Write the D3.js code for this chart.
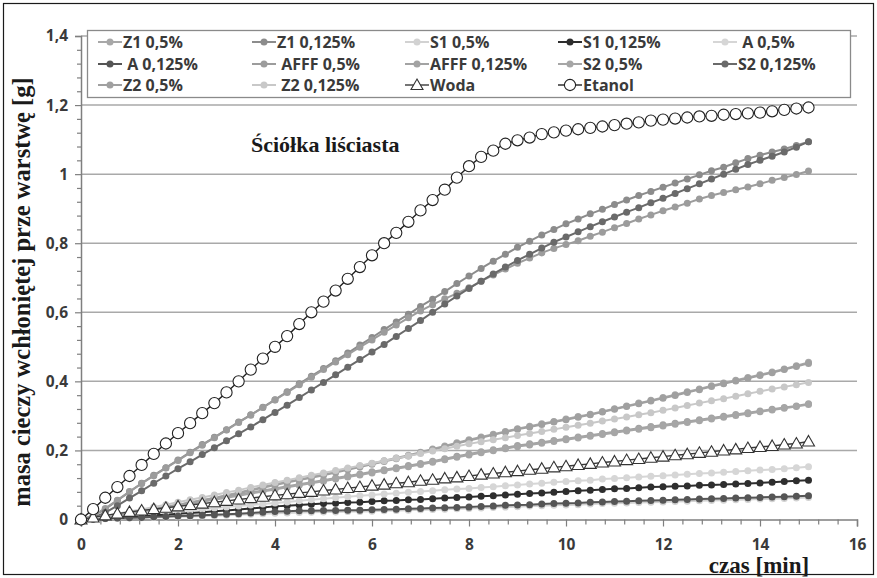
<!DOCTYPE html>
<html><head><meta charset="utf-8">
<script src="https://cdn.jsdelivr.net/npm/d3@7"></script>
<style>body{margin:0;background:#fff}svg{display:block}text{white-space:pre}</style>
</head><body><svg id="c" width="877" height="578"></svg>
<script>
const time = [0,0.25,0.5,0.75,1,1.25,1.5,1.75,2,2.25,2.5,2.75,3,3.25,3.5,3.75,4,4.25,4.5,4.75,5,5.25,5.5,5.75,6,6.25,6.5,6.75,7,7.25,7.5,7.75,8,8.25,8.5,8.75,9,9.25,9.5,9.75,10,10.25,10.5,10.75,11,11.25,11.5,11.75,12,12.25,12.5,12.75,13,13.25,13.5,13.75,14,14.25,14.5,14.75,15];

const seriesNames = ["Z1 0,5%","Z1 0,125%","S1 0,5%","S1 0,125%"," A 0,5%"," A 0,125%"," AFFF 0,5%","AFFF 0,125%","S2 0,5%","S2 0,125%","Z2 0,5%"," Z2 0,125%","Woda","Etanol"];

const z1_05 = [0,0.004,0.009,0.014,0.019,0.024,0.03,0.036,0.042,0.049,
 0.056,0.063,0.07,0.078,0.086,0.094,0.102,0.109,0.116,0.123,
 0.13,0.138,0.146,0.154,0.162,0.17,0.178,0.186,0.195,0.204,
 0.213,0.222,0.231,0.239,0.247,0.255,0.263,0.27,0.277,0.284,
 0.291,0.298,0.305,0.313,0.321,0.329,0.337,0.345,0.353,0.361,
 0.37,0.378,0.387,0.395,0.403,0.411,0.419,0.427,0.436,0.445,0.455];
const z1_0125 = [0,0.01,0.03,0.055,0.08,0.105,0.128,0.15,0.172,0.195,
 0.217,0.238,0.26,0.282,0.303,0.325,0.347,0.37,0.393,0.415,
 0.437,0.46,0.482,0.505,0.527,0.55,0.572,0.594,0.617,0.638,
 0.66,0.683,0.705,0.727,0.748,0.768,0.788,0.806,0.824,0.84,
 0.856,0.87,0.885,0.898,0.912,0.925,0.938,0.95,0.962,0.974,
 0.986,0.998,1.01,1.02,1.033,1.045,1.055,1.064,1.073,1.083,1.094];
const s1_05 = [0,0.001,0.002,0.003,0.004,0.005,0.006,0.007,0.008,0.009,
 0.01,0.011,0.012,0.014,0.015,0.017,0.018,0.019,0.02,0.021,
 0.022,0.022,0.023,0.023,0.024,0.025,0.026,0.027,0.028,0.029,
 0.03,0.031,0.032,0.033,0.035,0.036,0.037,0.039,0.04,0.041,
 0.042,0.043,0.045,0.046,0.047,0.048,0.049,0.05,0.051,0.052,
 0.053,0.054,0.055,0.056,0.057,0.058,0.059,0.06,0.061,0.062,0.064];
const s1_0125 = [0,0.002,0.004,0.006,0.008,0.01,0.012,0.014,0.017,0.019,
 0.021,0.024,0.026,0.029,0.032,0.035,0.038,0.04,0.042,0.044,
 0.046,0.047,0.049,0.05,0.052,0.054,0.055,0.057,0.058,0.06,
 0.062,0.064,0.065,0.067,0.069,0.071,0.073,0.075,0.077,0.079,
 0.081,0.083,0.085,0.087,0.089,0.09,0.092,0.094,0.095,0.096,
 0.097,0.099,0.1,0.101,0.103,0.104,0.106,0.108,0.11,0.112,0.114];
const a_05 = [0,0.003,0.006,0.009,0.012,0.015,0.018,0.021,0.024,0.027,
 0.03,0.033,0.036,0.039,0.042,0.045,0.048,0.051,0.054,0.057,
 0.06,0.063,0.066,0.069,0.071,0.074,0.076,0.079,0.081,0.083,
 0.086,0.088,0.09,0.093,0.095,0.098,0.1,0.103,0.105,0.108,
 0.11,0.112,0.114,0.117,0.119,0.121,0.123,0.125,0.127,0.129,
 0.131,0.133,0.135,0.137,0.139,0.141,0.143,0.145,0.147,0.15,0.153];
const a_0125 = [0,0.001,0.003,0.004,0.005,0.006,0.008,0.009,0.01,0.011,
 0.012,0.014,0.015,0.017,0.019,0.021,0.023,0.024,0.025,0.025,
 0.026,0.026,0.027,0.027,0.028,0.029,0.03,0.031,0.032,0.033,
 0.034,0.035,0.036,0.038,0.039,0.041,0.042,0.043,0.045,0.046,
 0.047,0.048,0.05,0.051,0.052,0.053,0.054,0.055,0.056,0.057,
 0.058,0.059,0.06,0.061,0.062,0.063,0.064,0.065,0.066,0.067,0.069];
const afff_05 = [0,0.012,0.032,0.056,0.081,0.104,0.127,0.149,0.171,0.193,
 0.215,0.237,0.259,0.281,0.302,0.324,0.346,0.368,0.39,0.412,
 0.434,0.456,0.477,0.499,0.52,0.542,0.563,0.584,0.604,0.622,
 0.639,0.655,0.671,0.69,0.708,0.725,0.742,0.757,0.772,0.785,
 0.796,0.807,0.82,0.832,0.845,0.857,0.87,0.882,0.894,0.905,
 0.916,0.928,0.938,0.947,0.955,0.963,0.972,0.982,0.99,0.999,1.009];
const afff_0125 = [0,0.005,0.01,0.015,0.02,0.025,0.03,0.036,0.042,0.048,
 0.054,0.06,0.066,0.072,0.078,0.084,0.09,0.096,0.102,0.108,
 0.114,0.12,0.126,0.132,0.138,0.144,0.15,0.156,0.162,0.169,
 0.176,0.183,0.19,0.196,0.202,0.208,0.214,0.219,0.224,0.229,
 0.234,0.239,0.244,0.249,0.254,0.259,0.264,0.269,0.274,0.279,
 0.284,0.289,0.294,0.299,0.304,0.309,0.314,0.319,0.324,0.329,0.335];
const s2_05 = [0,0.004,0.008,0.013,0.018,0.023,0.028,0.033,0.039,0.045,
 0.051,0.057,0.063,0.069,0.075,0.081,0.087,0.093,0.099,0.105,
 0.111,0.117,0.123,0.129,0.135,0.141,0.147,0.153,0.159,0.166,
 0.173,0.18,0.187,0.193,0.199,0.205,0.211,0.216,0.221,0.226,
 0.231,0.236,0.241,0.246,0.251,0.256,0.261,0.266,0.271,0.276,
 0.281,0.286,0.291,0.296,0.301,0.306,0.312,0.317,0.322,0.327,0.333];
const s2_0125 = [0,0.005,0.02,0.04,0.062,0.083,0.105,0.126,0.147,0.167,
 0.188,0.208,0.228,0.248,0.268,0.289,0.31,0.331,0.353,0.375,
 0.397,0.419,0.441,0.463,0.485,0.507,0.53,0.553,0.576,0.6,
 0.624,0.647,0.669,0.69,0.711,0.731,0.75,0.768,0.786,0.803,
 0.818,0.833,0.848,0.862,0.876,0.89,0.903,0.917,0.93,0.944,
 0.958,0.972,0.986,1.0,1.014,1.028,1.04,1.052,1.064,1.078,1.094];
const z2_05 = [0,0.005,0.01,0.015,0.02,0.025,0.031,0.037,0.043,0.049,
 0.055,0.062,0.069,0.076,0.084,0.092,0.1,0.107,0.114,0.121,
 0.128,0.136,0.144,0.152,0.16,0.168,0.176,0.184,0.193,0.202,
 0.211,0.22,0.229,0.237,0.245,0.253,0.261,0.268,0.275,0.282,
 0.289,0.296,0.303,0.311,0.319,0.327,0.335,0.343,0.351,0.359,
 0.368,0.376,0.385,0.393,0.401,0.409,0.417,0.425,0.434,0.443,0.452];
const z2_0125 = [0,0.005,0.011,0.017,0.023,0.029,0.036,0.043,0.05,0.057,
 0.064,0.071,0.078,0.085,0.093,0.1,0.107,0.114,0.121,0.128,
 0.135,0.142,0.149,0.156,0.163,0.17,0.177,0.184,0.191,0.198,
 0.205,0.212,0.219,0.225,0.231,0.237,0.243,0.249,0.255,0.261,
 0.267,0.273,0.279,0.285,0.291,0.297,0.303,0.309,0.316,0.323,
 0.33,0.337,0.344,0.35,0.357,0.364,0.371,0.378,0.384,0.39,0.397];
const woda = [0,0.006,0.012,0.017,0.022,0.026,0.03,0.034,0.038,0.042,
 0.046,0.05,0.054,0.058,0.062,0.066,0.07,0.073,0.077,0.08,
 0.084,0.087,0.091,0.094,0.098,0.101,0.105,0.108,0.112,0.115,
 0.119,0.122,0.126,0.13,0.133,0.137,0.14,0.144,0.147,0.151,
 0.154,0.158,0.161,0.165,0.168,0.172,0.175,0.179,0.182,0.186,
 0.189,0.193,0.196,0.2,0.203,0.207,0.21,0.213,0.217,0.22,0.226];
const etanol = [0,0.03,0.063,0.094,0.126,0.158,0.19,0.22,0.25,0.279,
 0.308,0.337,0.368,0.4,0.434,0.466,0.5,0.531,0.566,0.6,
 0.631,0.663,0.697,0.731,0.765,0.8,0.83,0.862,0.895,0.925,
 0.955,0.99,1.023,1.05,1.068,1.088,1.098,1.106,1.116,1.121,
 1.126,1.13,1.134,1.138,1.142,1.146,1.15,1.155,1.158,1.161,
 1.164,1.167,1.169,1.172,1.174,1.176,1.178,1.182,1.186,1.19,1.193];

const seriesValues = [z1_05,z1_0125,s1_05,s1_0125,a_05,a_0125,afff_05,afff_0125,s2_05,s2_0125,z2_05,z2_0125,woda,etanol];
const seriesColors = ["#a8a8a8","#8c8c8c","#d2d2d2","#2e2e2e","#d6d6d6","#555555","#9c9c9c","#a3a3a3","#a6a6a6","#6a6a6a","#a0a0a0","#c8c8c8","#3a3a3a","#222222"];
const seriesMarkers = ["dot","dot","dot","dot","dot","dot","dot","dot","dot","dot","dot","dot","triangle","circle"];

const yTicks = [0,0.2,0.4,0.6,0.8,1,1.2,1.4];
const yTickLabels = ["0","0,2","0,4","0,6","0,8","1","1,2","1,4"];
const xTicks = [0,2,4,6,8,10,12,14,16];
const xTickLabels = ["0","2","4","6","8","10","12","14","16"];

const svg = d3.select("#c");
const x = d3.scaleLinear().domain([0,16]).range([81,857]);
const y = d3.scaleLinear().domain([0,1.4]).range([519.5,36]);
const sans = "'Open Sans', 'DejaVu Sans', sans-serif";
const serif = "'Liberation Serif', 'Times New Roman', serif";

svg.append("rect").attr("x",0).attr("y",0).attr("width",877).attr("height",578).attr("fill","#fff");
svg.append("rect").attr("x",3.5).attr("y",3.5).attr("width",870).attr("height",571)
  .attr("fill","none").attr("stroke","#1a1a1a").attr("stroke-width",1.2);

// gridlines
svg.append("g").selectAll("line").data(yTicks.filter(d=>d>0)).join("line")
  .attr("x1",x(0)).attr("x2",x(16)).attr("y1",d=>y(d)).attr("y2",d=>y(d))
  .attr("stroke","#a9a9a9").attr("stroke-width",1.5);

// axes
const minorY = d3.range(0,1.4001,0.04).filter(v=>!yTicks.some(t=>Math.abs(t-v)<1e-6));
const minorX = d3.range(0,16.001,0.4).filter(v=>!xTicks.some(t=>Math.abs(t-v)<1e-6));

const gy = svg.append("g").attr("transform",`translate(${x(0)},0)`);
gy.call(d3.axisLeft(y).tickValues(yTicks).tickSize(6).tickFormat((d,i)=>yTickLabels[i]));
const gym = svg.append("g").attr("transform",`translate(${x(0)},0)`);
gym.call(d3.axisLeft(y).tickValues(minorY).tickSize(4).tickFormat(""));
gym.select(".domain").remove();

const gx = svg.append("g").attr("transform",`translate(0,${y(0)})`);
gx.call(d3.axisBottom(x).tickValues(xTicks).tickSize(7).tickFormat((d,i)=>xTickLabels[i]));
const gxm = svg.append("g").attr("transform",`translate(0,${y(0)})`);
gxm.call(d3.axisBottom(x).tickValues(minorX).tickSize(5).tickFormat(""));
gxm.select(".domain").remove();

[gy,gym,gx,gxm].forEach(g=>{
  g.selectAll(".domain").attr("stroke","#7f7f7f").attr("stroke-width",1.5);
  g.selectAll(".tick line").attr("stroke","#7f7f7f").attr("stroke-width",1.2);
  g.selectAll("text").attr("font-family",sans).attr("font-weight","bold").attr("font-size",15.5).attr("fill","#3a3a3a");
});
gy.selectAll("text").attr("x",-13);
gx.selectAll("text").attr("y",19);

// series
const lineGen = d3.line().x((d,i)=>x(time[i])).y(d=>y(d));
function drawMarker(g, type, cx, cy, color){
  if(type==="dot"){
    g.append("circle").attr("cx",cx).attr("cy",cy).attr("r",3.5).attr("fill",color);
  } else if(type==="circle"){
    g.append("circle").attr("cx",cx).attr("cy",cy).attr("r",5.6).attr("fill","#fff").attr("stroke","#222").attr("stroke-width",1.1);
  } else {
    const s=6;
    g.append("path").attr("d",`M${cx},${cy-s}L${cx+s},${cy+s*0.75}L${cx-s},${cy+s*0.75}Z`)
      .attr("fill","#fff").attr("stroke","#333").attr("stroke-width",1.1);
  }
}
seriesValues.forEach((vals,si)=>{
  const g = svg.append("g");
  const type = seriesMarkers[si];
  g.append("path").attr("d",lineGen(vals)).attr("fill","none")
    .attr("stroke",seriesColors[si]).attr("stroke-width",type==="dot"?2:1.4);
  vals.forEach((v,i)=>drawMarker(g,type,x(time[i]),y(v),seriesColors[si]));
});

// annotation
svg.append("text").attr("x",251).attr("y",152).attr("font-family",serif).attr("font-weight","bold")
  .attr("font-size",22).attr("fill","#1a1a1a").text("Ściółka liściasta");

// axis titles
svg.append("text").attr("transform","translate(30,292) rotate(-90)").attr("text-anchor","middle")
  .attr("font-family",serif).attr("font-weight","bold").attr("font-size",24.5).attr("fill","#1a1a1a")
  .text("masa cieczy wchłoniętej prze warstwę [g]");
svg.append("text").attr("x",759).attr("y",573).attr("text-anchor","middle")
  .attr("font-family",serif).attr("font-weight","bold").attr("font-size",23).attr("fill","#1a1a1a")
  .text("czas [min]");

// legend
const lg = svg.append("g");
lg.append("rect").attr("x",87.5).attr("y",30.5).attr("width",763).attr("height",67)
  .attr("fill","#fff").attr("stroke","#8a8a8a").attr("stroke-width",1.3);
const colX = [98,252,405,558,713];
const rowY = [42,64,85];
seriesNames.forEach((name,si)=>{
  const cx0 = colX[si%5], cy0 = rowY[Math.floor(si/5)];
  const type = seriesMarkers[si];
  lg.append("line").attr("x1",cx0).attr("x2",cx0+24).attr("y1",cy0).attr("y2",cy0)
    .attr("stroke",seriesColors[si]).attr("stroke-width",type==="dot"?2:1.4);
  drawMarker(lg,type,cx0+12,cy0,seriesColors[si]);
  lg.append("text").attr("x",cx0+25).attr("y",cy0+6).attr("xml:space","preserve")
    .attr("font-family",sans).attr("font-weight","bold").attr("font-size",16).attr("fill","#3a3a3a")
    .text(name);
});
</script></body></html>
